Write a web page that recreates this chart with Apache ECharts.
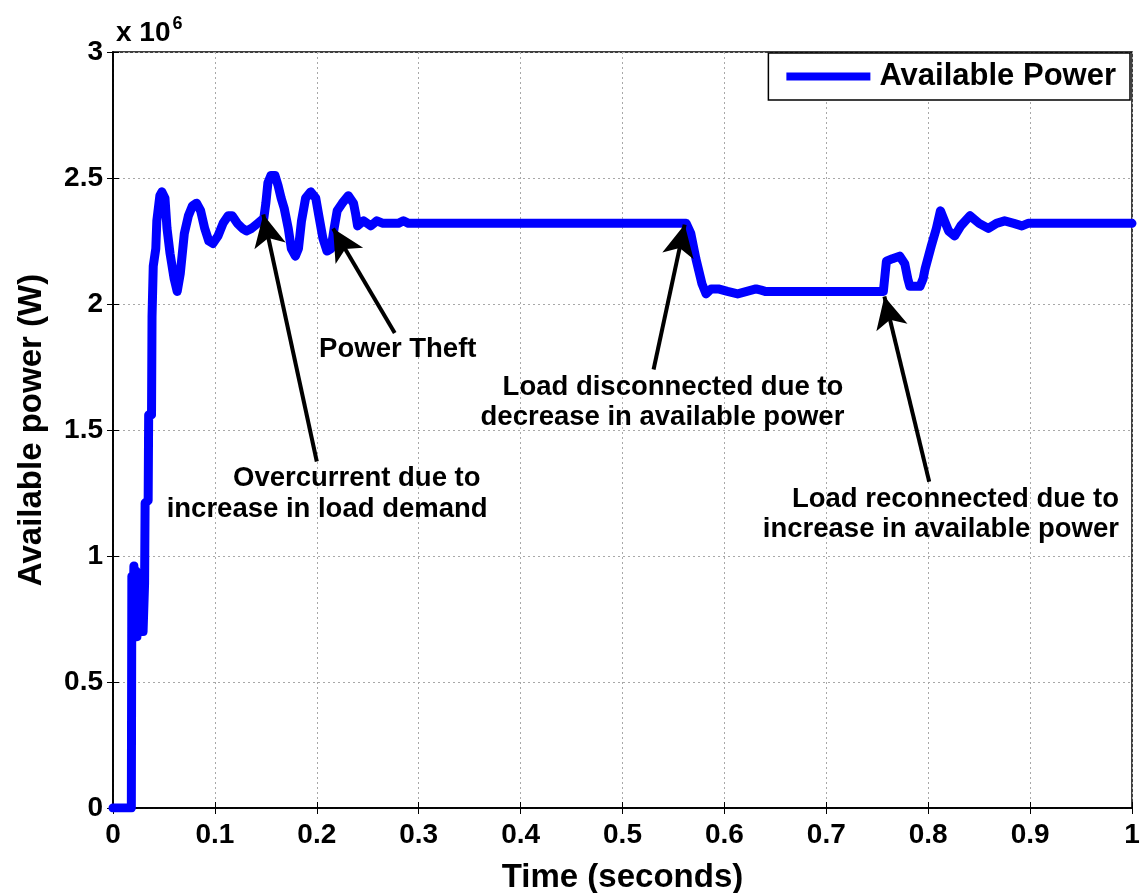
<!DOCTYPE html>
<html>
<head>
<meta charset="utf-8">
<script src="https://cdn.jsdelivr.net/npm/echarts@6/dist/echarts.min.js"></script>
<style>
html,body{margin:0;padding:0;background:#fff;}
#chart{width:1142px;height:893px;}
</style>
</head>
<body>
<div id="chart"></div>
<script>
// Time (s)
var times = [0,0.018,0.0185,0.0195,0.0205,0.0215,0.0225,0.0235,0.0245,0.0255,0.0265,0.0275,0.0285,0.0295,0.031,0.0315,0.0345,0.035,0.0378,0.0383,0.0395,0.042,0.043,0.046,0.048,0.051,0.053,0.056,0.060,0.063,0.066,0.070,0.074,0.078,0.082,0.086,0.090,0.094,0.098,0.103,0.108,0.113,0.117,0.122,0.127,0.131,0.136,0.142,0.148,0.150,0.152,0.155,0.159,0.162,0.165,0.168,0.172,0.175,0.179,0.182,0.185,0.189,0.194,0.199,0.202,0.206,0.210,0.214,0.217,0.220,0.225,0.231,0.236,0.238,0.240,0.246,0.253,0.259,0.265,0.272,0.280,0.285,0.290,0.5625,0.567,0.572,0.578,0.582,0.587,0.594,0.603,0.613,0.622,0.631,0.636,0.640,0.756,0.759,0.765,0.772,0.777,0.780,0.782,0.792,0.795,0.797,0.803,0.808,0.812,0.816,0.820,0.826,0.832,0.841,0.850,0.859,0.867,0.875,0.884,0.892,0.898,1.0];
// Available power (x 10^6 W)
var power = [0,0,0.92,0.72,0.96,0.69,0.94,0.68,0.90,0.70,0.92,0.72,0.88,0.70,0.89,1.21,1.22,1.56,1.56,1.95,2.15,2.22,2.33,2.43,2.445,2.42,2.30,2.20,2.10,2.05,2.12,2.28,2.35,2.39,2.40,2.37,2.30,2.25,2.24,2.27,2.32,2.35,2.35,2.32,2.30,2.29,2.30,2.32,2.34,2.40,2.48,2.51,2.51,2.47,2.42,2.38,2.30,2.22,2.19,2.22,2.33,2.42,2.445,2.42,2.35,2.26,2.21,2.22,2.30,2.37,2.40,2.43,2.40,2.36,2.31,2.33,2.31,2.33,2.32,2.32,2.32,2.33,2.32,2.32,2.28,2.18,2.08,2.04,2.06,2.06,2.05,2.04,2.05,2.06,2.055,2.05,2.05,2.17,2.18,2.19,2.16,2.10,2.07,2.07,2.10,2.14,2.23,2.30,2.37,2.33,2.29,2.27,2.31,2.35,2.32,2.30,2.32,2.33,2.32,2.31,2.32,2.32];

var xTicks = ['0','0.1','0.2','0.3','0.4','0.5','0.6','0.7','0.8','0.9','1'];
var yTicks = ['0','0.5','1','1.5','2','2.5','3'];

// Annotation arrows: [tailT, tailP, tipT, tipP]
var arrows = [
  [0.200, 1.375, 0.1475, 2.355],
  [0.2765, 1.885, 0.216, 2.30],
  [0.5305, 1.740, 0.561, 2.315],
  [0.801, 1.295, 0.757, 2.03]
];
// Annotation lines (right-aligned at [t, P])
var notes = [
  [0.3567, 1.819, 'Power Theft'],
  [0.3607, 1.306, 'Overcurrent due to'],
  [0.3676, 1.183, 'increase in load demand'],
  [0.7167, 1.667, 'Load disconnected due to'],
  [0.7177, 1.548, 'decrease in available power'],
  [0.9872, 1.226, 'Load reconnected due to'],
  [0.9872, 1.107, 'increase in available power']
];

var seriesData = times.map(function(t, i){ return [t, power[i]]; });

var chart = echarts.init(document.getElementById('chart'), null, {renderer:'canvas'});
var font = 'Arial, "Liberation Sans", sans-serif';
var gridLine = {show:true, lineStyle:{color:'#a8a8a8', type:[2,3], width:1}};

chart.setOption({
  animation:false,
  backgroundColor:'#ffffff',
  textStyle:{fontFamily:font},
  title:{
    text:'x 10{sup|6}',
    left:111, top:10,
    textStyle:{fontSize:28, fontWeight:'bold', color:'#000', fontFamily:font,
      rich:{sup:{fontSize:18, fontWeight:'bold', color:'#000', verticalAlign:'top', padding:[0,0,18,2], fontFamily:font}}}
  },
  legend:{
    data:['Available Power'],
    right:12, top:53,
    orient:'horizontal',
    icon:'rect',
    itemWidth:84, itemHeight:8,
    backgroundColor:'#fff',
    borderColor:'#000', borderWidth:1.5, borderRadius:0,
    padding:[8,14,8,18],
    textStyle:{fontSize:31, fontWeight:'bold', color:'#000', fontFamily:font, padding:[0,0,0,4]}
  },
  grid:{left:113, right:10, top:52, bottom:85, containLabel:false, outerBoundsMode:'none',
    show:true, borderColor:'#000', borderWidth:1.5, backgroundColor:'#fff'},
  xAxis:[{
    type:'value', min:0, max:1, interval:0.1, position:'bottom',
    name:'Time (seconds)', nameLocation:'middle', nameGap:53,
    nameTextStyle:{fontSize:33, fontWeight:'bold', color:'#000', fontFamily:font},
    axisLine:{show:true, lineStyle:{color:'#000', width:1.5}},
    axisTick:{show:true, inside:true, length:6, lineStyle:{color:'#000'}},
    axisLabel:{fontSize:28, fontWeight:'bold', color:'#000', margin:13, fontFamily:font,
      formatter:function(v){ return xTicks[Math.round(v*10)]; }},
    splitLine:gridLine
  },{
    type:'value', min:0, max:1, interval:0.1, position:'top',
    axisLine:{show:true, lineStyle:{color:'#000', width:1.5}},
    axisTick:{show:true, inside:true, length:6, lineStyle:{color:'#000'}},
    axisLabel:{show:false}, splitLine:{show:false}
  }],
  yAxis:[{
    type:'value', min:0, max:3, interval:0.5, position:'left',
    name:'Available power (W)', nameLocation:'middle', nameGap:65, nameRotate:90,
    nameTextStyle:{fontSize:33, fontWeight:'bold', color:'#000', fontFamily:font},
    axisLine:{show:true, lineStyle:{color:'#000', width:1.5}},
    axisTick:{show:true, inside:true, length:6, lineStyle:{color:'#000'}},
    axisLabel:{fontSize:28, fontWeight:'bold', color:'#000', margin:10, fontFamily:font,
      formatter:function(v){ return yTicks[Math.round(v*2)]; }},
    splitLine:gridLine
  },{
    type:'value', min:0, max:3, interval:0.5, position:'right',
    axisLine:{show:true, lineStyle:{color:'#000', width:1.5}},
    axisTick:{show:true, inside:true, length:6, lineStyle:{color:'#000'}},
    axisLabel:{show:false}, splitLine:{show:false}
  }],
  series:[{
    name:'Available Power',
    type:'line',
    data:seriesData,
    showSymbol:false,
    symbol:'none',
    clip:true,
    itemStyle:{color:'#0000ff'},
    lineStyle:{color:'#0000ff', width:9, cap:'round', join:'round'},
    markLine:{
      silent:true,
      symbol:['none','arrow'],
      symbolSize:[24,32],
      label:{show:false},
      lineStyle:{color:'#000', width:4, type:'solid'},
      data:arrows.map(function(a){ return [{coord:[a[0],a[1]]},{coord:[a[2],a[3]]}]; })
    },
    markPoint:{
      silent:true,
      symbol:'circle', symbolSize:0,
      label:{show:true, position:'inside', color:'#000', fontSize:27.5, fontWeight:'bold', align:'right', verticalAlign:'middle', fontFamily:font,
        formatter:function(p){ return p.data.text; }},
      data:notes.map(function(n){ return {coord:[n[0],n[1]], text:n[2], value:0}; })
    }
  }]
});
</script>
</body>
</html>
